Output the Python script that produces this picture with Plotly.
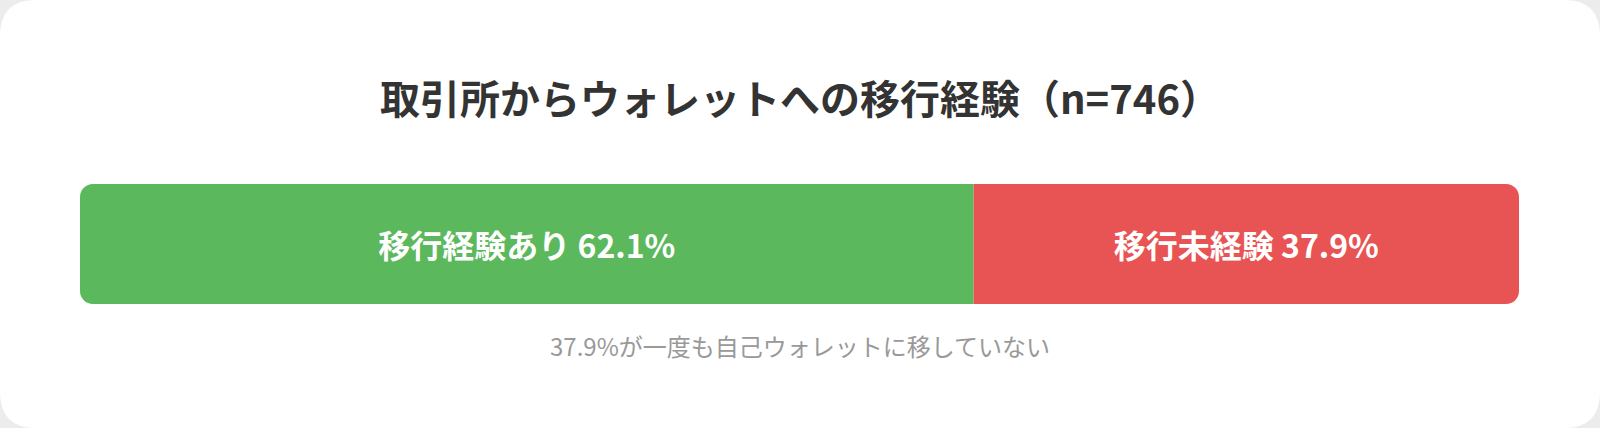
import plotly.graph_objects as go

# survey result: did respondents move funds from exchange to own wallet
labels = ["移行経験あり", "移行未経験"]
shares = [62.1, 37.9]
colors = ["#5cb85c", "#e85353"]
title_text = "取引所からウォレットへの移行経験（n=746）"
note_text = "37.9%が一度も自己ウォレットに移していない"

W, H = 1600, 428
font = "Noto Sans CJK JP, Noto Sans, sans-serif"

fig = go.Figure()

# relative mode: first share stacks to the left of the split, second to the right,
# so only the two outer ends get rounded corners
fig.add_trace(go.Bar(
    y=["all"], x=[-shares[0]], orientation="h",
    marker=dict(color=colors[0], line=dict(width=0)),
    text=[f"{labels[0]} {shares[0]}%"],
    textposition="inside", insidetextanchor="middle",
    textfont=dict(color="white", size=32, family=font, weight="bold"),
    width=1, hoverinfo="skip",
))
fig.add_trace(go.Bar(
    y=["all"], x=[shares[1]], orientation="h",
    marker=dict(color=colors[1], line=dict(width=0)),
    text=[f"{labels[1]} {shares[1]}%"],
    textposition="inside", insidetextanchor="middle",
    textfont=dict(color="white", size=32, family=font, weight="bold"),
    width=1, hoverinfo="skip",
))

# white card with rounded corners
rx, ry = 36 / W, 36 / H
card = (f"M {rx},0 L {1-rx},0 Q 1,0 1,{ry} L 1,{1-ry} Q 1,1 {1-rx},1 "
        f"L {rx},1 Q 0,1 0,{1-ry} L 0,{ry} Q 0,0 {rx},0 Z")

fig.update_layout(
    width=W, height=H,
    margin=dict(l=0, r=0, t=0, b=0),
    paper_bgcolor="#ececec",
    plot_bgcolor="rgba(0,0,0,0)",
    barmode="relative",
    barcornerradius=13,
    showlegend=False,
    font=dict(family=font),
    title=dict(text=title_text, x=0.5, xanchor="center",
               y=1 - 100 / H, yanchor="middle", yref="container",
               font=dict(size=40, color="#333333", family=font, weight="bold")),
    xaxis=dict(range=[-shares[0], shares[1]], domain=[80 / W, 1519 / W],
               visible=False, fixedrange=True),
    yaxis=dict(range=[-0.5, 0.5], domain=[1 - 304 / H, 1 - 184 / H],
               visible=False, fixedrange=True),
    shapes=[dict(type="path", path=card, xref="paper", yref="paper",
                 fillcolor="white", line=dict(width=0), layer="below")],
    annotations=[dict(text=note_text, x=0.5, y=1 - 345 / H, xref="paper", yref="paper",
                      xanchor="center", yanchor="middle", showarrow=False,
                      font=dict(size=24, color="#999999", family=font))],
)

fig.write_html("out.html", config={"displayModeBar": False},
               post_script="document.body.style.margin='0px';")
